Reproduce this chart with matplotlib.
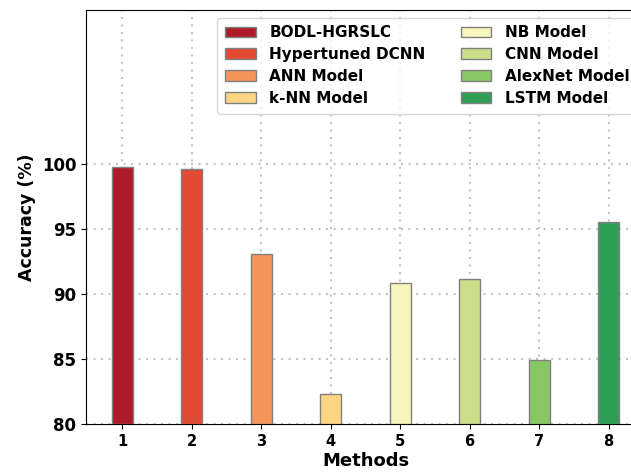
import matplotlib
matplotlib.use("Agg")
import matplotlib.pyplot as plt

methods = ["BODL-HGRSLC", "Hypertuned DCNN", "ANN Model", "k-NN Model",
           "NB Model", "CNN Model", "AlexNet Model", "LSTM Model"]
positions = [1, 2, 3, 4, 5, 6, 7, 8]
accuracy = [99.75, 99.6, 93.05, 82.3, 90.85, 91.15, 84.95, 95.5]
yticks = [80, 85, 90, 95, 100]

# red -> yellow -> green, picked off the original bars
colors = ["#ad1c28", "#e24a33", "#f6955a", "#fdd683",
          "#f8f6be", "#cadf8a", "#86c764", "#2f9f55"]

fig = plt.figure(figsize=(6.31, 4.72), dpi=100)
# axes runs past the right edge, like the cropped original
ax = fig.add_axes([86 / 631, (472 - 424) / 472, (645 - 86) / 631, (424 - 10) / 472])

for x, y, c, name in zip(positions, accuracy, colors, methods):
    ax.bar(x, y - 80, bottom=80, width=0.3, color=c, edgecolor="grey",
           linewidth=1, label=name, zorder=3)

ax.set_xlim(0.475, 8.525)
ax.set_ylim(80, 111.8)
ax.set_xticks(positions)
ax.set_yticks(yticks)
ax.tick_params(axis="x", labelsize=10.5)
ax.tick_params(axis="y", labelsize=12)
for lbl in ax.get_xticklabels() + ax.get_yticklabels():
    lbl.set_fontweight("bold")

ax.grid(True, linestyle=(0, (1, 2.6)), color="#c4c4c4", linewidth=1.5, zorder=0)
ax.set_xlabel("Methods", fontsize=13, fontweight="bold", labelpad=2)
ax.set_ylabel("Accuracy (%)", fontsize=12.5, fontweight="bold")

ax.legend(loc="upper right", ncol=2, prop={"weight": "bold", "size": 11},
          handlelength=2.0, handletextpad=0.9, columnspacing=2.3,
          labelspacing=0.45, borderaxespad=0.5, borderpad=0.5)

fig.savefig("out.png", dpi=100)
